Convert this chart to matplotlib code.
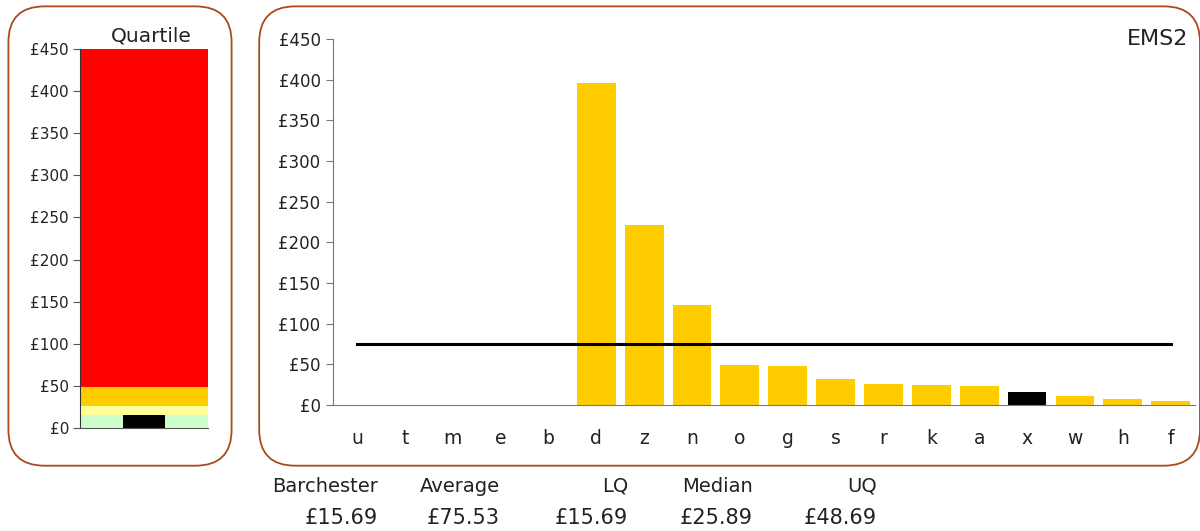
import matplotlib.pyplot as plt
from matplotlib.patches import FancyBboxPatch

# cost per unit by site
sites = ['u', 't', 'm', 'e', 'b', 'd', 'z', 'n', 'o', 'g', 's', 'r', 'k', 'a', 'x', 'w', 'h', 'f']
costs = [0, 0, 0, 0, 0, 396, 221, 123, 49, 48, 32, 26, 24.5, 23.3, 15.69, 10.5, 7.3, 4.9]
highlight = 'x'

barchester = 15.69
average = 75.53
lq = 15.69
median = 25.89
uq = 48.69
ymax = 450

summary_heads = ['Barchester', 'Average', 'LQ', 'Median', 'UQ']
summary_vals = [barchester, average, lq, median, uq]

gold = '#FFCC00'
frame = '#A84A1A'
txt = '#222222'

fig = plt.figure(figsize=(12, 5.31), dpi=100)

# rounded frames round both panels
for x0, w in [(0.007, 0.186), (0.216, 0.784)]:
    box = FancyBboxPatch((x0, 0.123), w, 0.865, boxstyle='round,pad=0,rounding_size=0.03',
                         transform=fig.transFigure, facecolor='none', edgecolor=frame,
                         linewidth=1.3, mutation_aspect=1200 / 531)
    fig.patches.append(box)

# quartile panel
axq = fig.add_axes([0.0667, 0.194, 0.1067, 0.7137])
bands = [(0, lq, '#CCFFCC'), (lq, median, '#FFFF99'), (median, uq, gold), (uq, ymax, '#FF0000')]
for lo, hi, c in bands:
    axq.bar(0.5, hi - lo, bottom=lo, width=1.0, color=c, linewidth=0)
axq.bar(0.5, barchester, width=0.33, color='black', linewidth=0)
axq.set_xlim(0, 1)
axq.set_ylim(0, ymax)
axq.set_yticks(range(0, ymax + 1, 50))
axq.set_yticklabels(['£%d' % v for v in range(0, ymax + 1, 50)])
axq.set_xticks([])
for s in ['top', 'right']:
    axq.spines[s].set_visible(False)
axq.spines['left'].set_color('#333333')
axq.spines['bottom'].set_color('#555555')
axq.tick_params(axis='y', length=5, color='#555555', labelsize=11, labelcolor=txt, pad=3)
axq.text(0.56, 1.035, 'Quartile', transform=axq.transAxes, ha='center', va='center',
         fontsize=14.5, color=txt)

# site bars
ax = fig.add_axes([0.2775, 0.2373, 0.718, 0.6893])
xs = list(range(len(sites)))
colors = ['black' if s == highlight else gold for s in sites]
ax.bar(xs, costs, width=0.81, color=colors, linewidth=0)
ax.plot([xs[0], xs[-1]], [average, average], color='black', linewidth=2.2)
ax.set_xlim(-0.5, len(sites) - 0.5)
ax.set_ylim(0, ymax)
ax.set_yticks(range(0, ymax + 1, 50))
ax.set_yticklabels(['£%d' % v for v in range(0, ymax + 1, 50)])
ax.set_xticks(xs)
ax.set_xticklabels(sites)
for s in ['top', 'right']:
    ax.spines[s].set_visible(False)
ax.spines['left'].set_color('#777777')
ax.spines['bottom'].set_color('#777777')
ax.tick_params(axis='y', length=5, color='#777777', labelsize=12, labelcolor=txt, pad=4)
ax.tick_params(axis='x', length=0, labelsize=13.5, labelcolor=txt, pad=17)
ax.text(0.993, 1.0, 'EMS2', transform=ax.transAxes, ha='right', va='center', fontsize=16, color=txt)

# summary figures under the chart
right_edges = [378, 500, 628, 753, 877]
for xr, head, val in zip(right_edges, summary_heads, summary_vals):
    fig.text(xr / 1200, 1 - 486 / 531, head, ha='right', va='center', fontsize=14, color=txt)
    fig.text(xr / 1200, 1 - 518 / 531, '£%.2f' % val, ha='right', va='center', fontsize=15, color=txt)

fig.savefig('out.png', dpi=100)
